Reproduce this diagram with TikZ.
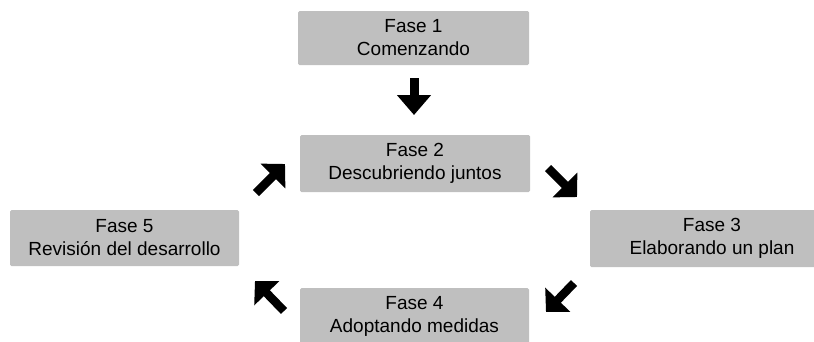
\documentclass[tikz,border=0pt]{standalone}
\usepackage{fontspec}
\setmainfont{Liberation Sans}
\usetikzlibrary{arrows.meta}
\begin{document}
\begin{tikzpicture}[x=1pt,y=-1pt,
  fase/.style={fill=black!25, draw=none, rounded corners=1.5pt, align=center,
    inner sep=0pt, font=\fontsize{19}{23}\selectfont, text=black},
  blockarrow/.style={line width=8.5pt, black, -{Triangle[length=17pt,width=34pt]}},
  downarrow/.style={line width=9pt, black, -{Triangle[length=20pt,width=33pt]}}]
\useasboundingbox (0,0) rectangle (814,341);
\clip (0,0) rectangle (814,341);
% phases
\node[fase, minimum width=231pt, minimum height=54pt] (f1) at (413.5,38) {Fase 1\\Comenzando};
\node[fase, minimum width=230pt, minimum height=57pt] (f2) at (415,163.5) {Fase 2\\Descubriendo juntos};
\node[fase, minimum width=244pt, minimum height=57pt] (f3) at (712,238.5) {Fase 3\\Elaborando un plan};
\node[fase, minimum width=229pt, minimum height=56pt] (f4) at (414.5,316) {Fase 4\\Adoptando medidas};
\node[fase, minimum width=229pt, minimum height=56pt] (f5) at (124.5,238) {Fase 5\\Revisión del desarrollo};
% arrows (free-standing)
\coordinate (d1s) at (414,78);
\coordinate (d1e) at (414,115);
\draw[downarrow] (d1s) -- (d1e);
\coordinate (a52s) at (256,193);
\coordinate (a52e) at (285,164);
\draw[blockarrow] (a52s) -- (a52e);
\coordinate (a23s) at (548,168);
\coordinate (a23e) at (577,197);
\draw[blockarrow] (a23s) -- (a23e);
\coordinate (a34s) at (574,283);
\coordinate (a34e) at (546,312);
\draw[blockarrow] (a34s) -- (a34e);
\coordinate (a45s) at (284,311);
\coordinate (a45e) at (255,281);
\draw[blockarrow] (a45s) -- (a45e);
\end{tikzpicture}
\end{document}
